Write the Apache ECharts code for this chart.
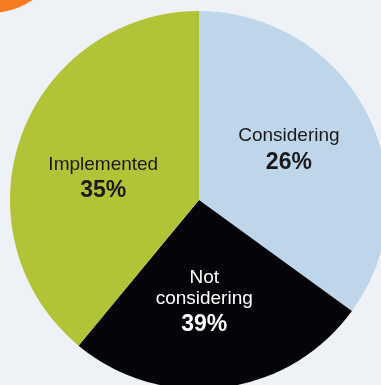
<!DOCTYPE html>
<html>
<head>
<meta charset="utf-8">
<script src="https://cdn.jsdelivr.net/npm/echarts@6/dist/echarts.min.js"></script>
<style>
  html, body { margin: 0; padding: 0; background: #eef2f6; }
  #chart { width: 381px; height: 385px; }
</style>
</head>
<body>
<div id="chart"></div>
<script>
// Categories in drawing order (clockwise from 12 o'clock)
const categories = ['Considering', 'Not considering', 'Implemented'];
const sliceShares = [35, 26, 39];
// Percentages as printed on the slices
const printedPercents = ['26%', '39%', '35%'];
const sliceColors = ['#bfd5ea', '#050408', '#b1c337'];
const labelColors = ['#1a1a1a', '#ffffff', '#1a1a1a'];
const labelPads = [[0, 0, 8, 6], [14, 14, 0, 0], [26, 8, 0, 0]];

const chart = echarts.init(document.getElementById('chart'), null, { renderer: 'canvas' });

const data = categories.map((name, i) => ({
  name: name,
  value: sliceShares[i],
  itemStyle: { color: sliceColors[i] },
  label: {
    padding: labelPads[i],
    rich: {
      n: { fontSize: 19, lineHeight: 21, color: labelColors[i], fontFamily: 'Liberation Sans', align: 'center' },
      p: { fontSize: 23, lineHeight: 31, fontWeight: 'bold', color: labelColors[i], fontFamily: 'Liberation Sans', align: 'center' }
    }
  }
}));

chart.setOption({
  backgroundColor: '#eef2f6',
  animation: false,
  graphic: [{
    type: 'circle',
    shape: { cx: -10, cy: -63, r: 76 },
    style: { fill: '#f47b20' },
    silent: true
  }],
  series: [{
    type: 'pie',
    center: [199, 200],
    radius: [0, 189],
    startAngle: 90,
    clockwise: true,
    silent: true,
    avoidLabelOverlap: false,
    labelLine: { show: false },
    label: {
      show: true,
      position: 'inside',
      formatter: function (p) {
        const lines = p.name.split(' ').map(w => '{n|' + w + '}');
        return lines.join('\n') + '\n{p|' + printedPercents[p.dataIndex] + '}';
      }
    },
    data: data
  }]
});
</script>
</body>
</html>
